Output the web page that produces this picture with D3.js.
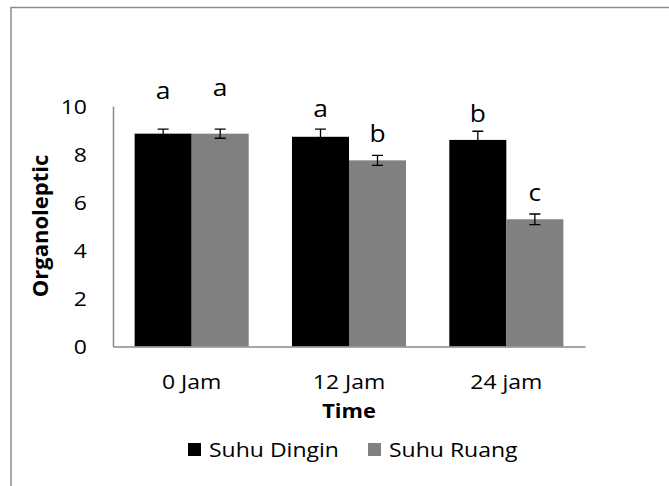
<!DOCTYPE html>
<html>
<head>
<meta charset="utf-8">
<script src="https://cdn.jsdelivr.net/npm/d3@7"></script>
<style>
  body { margin: 0; background: #fff; }
  svg text { font-family: "Open Sans", sans-serif; fill: #000; }
</style>
</head>
<body>
<svg id="chart" width="669" height="486"></svg>
<script>
// Data
const categories = ["0 Jam", "12 Jam", "24 jam"];
const seriesNames = ["Suhu Dingin", "Suhu Ruang"];
const dinginValues = [8.85, 8.72, 8.59];
const ruangValues = [8.85, 7.74, 5.29];
const dinginErrors = [0.19, 0.32, 0.36];
const ruangErrors = [0.19, 0.21, 0.22];
const dinginLetters = ["a", "a", "b"];
const ruangLetters = ["a", "b", "c"];
// letter baselines, in axis units
const dinginLetterAt = [10.29, 9.54, 9.35];
const ruangLetterAt = [10.40, 8.50, 6.05];
const yTicks = [0, 2, 4, 6, 8, 10];

const colors = { "Suhu Dingin": "#000000", "Suhu Ruang": "#808080" };
const axisColor = "#888888";
const SX = 1.15; // the reference text is wide for its height

const svg = d3.select("#chart");

// outer frame (top and left only)
svg.append("path")
  .attr("d", "M11,486 L11,7.5 L669,7.5")
  .attr("fill", "none")
  .attr("stroke", "#8c8c8c")
  .attr("stroke-width", 1.5);

const plot = { left: 113, right: 585, top: 106, bottom: 346.5 };

const x0 = d3.scaleBand()
  .domain(categories)
  .range([plot.left, plot.right])
  .paddingInner(0.275)
  .paddingOuter(0.1375);

const x1 = d3.scaleBand()
  .domain(seriesNames)
  .range([0, x0.bandwidth()]);

const y = d3.scaleLinear()
  .domain([0, 10])
  .range([plot.bottom, plot.top]);

// rows for drawing
const rows = [];
categories.forEach((c, i) => {
  rows.push({ cat: c, series: "Suhu Dingin", value: dinginValues[i], err: dinginErrors[i], letter: dinginLetters[i], letterAt: dinginLetterAt[i] });
  rows.push({ cat: c, series: "Suhu Ruang", value: ruangValues[i], err: ruangErrors[i], letter: ruangLetters[i], letterAt: ruangLetterAt[i] });
});
const cx = d => x0(d.cat) + x1(d.series) + x1.bandwidth() / 2;

// bars
svg.append("g").selectAll("rect")
  .data(rows)
  .enter().append("rect")
  .attr("x", d => x0(d.cat) + x1(d.series))
  .attr("y", d => y(d.value))
  .attr("width", x1.bandwidth())
  .attr("height", d => y(0) - y(d.value))
  .attr("fill", d => colors[d.series]);

// error bars
const eb = svg.append("g")
  .attr("stroke", "#000")
  .attr("stroke-width", 1.3)
  .attr("fill", "none");
rows.forEach(d => {
  const xc = cx(d), top = y(d.value + d.err), bot = y(d.value - d.err);
  eb.append("path")
    .attr("d", `M${xc},${top}V${bot}M${xc - 5.5},${top}H${xc + 5.5}M${xc - 5.5},${bot}H${xc + 5.5}`);
});

// y axis
const yAxis = svg.append("g")
  .attr("transform", `translate(${plot.left},0)`)
  .call(d3.axisLeft(y).tickValues(yTicks).tickSize(0).tickPadding(0));
yAxis.select(".domain").attr("stroke", axisColor).attr("stroke-width", 1.5);
yAxis.selectAll(".tick text")
  .attr("x", 0)
  .attr("dy", "0.36em")
  .attr("transform", `translate(-26,0) scale(${SX},1)`)
  .style("font-size", "20px")
  .style("font-family", "'Open Sans', sans-serif")
  .attr("fill", "#000");

// x axis
const xAxis = svg.append("g")
  .attr("transform", `translate(0,${plot.bottom})`)
  .call(d3.axisBottom(x0).tickSize(0).tickPadding(0).tickSizeOuter(0));
xAxis.select(".domain").attr("stroke", axisColor).attr("stroke-width", 1.5);
xAxis.selectAll(".tick text")
  .attr("y", 0)
  .attr("dy", 0)
  .attr("transform", `translate(0,42) scale(${SX},1)`)
  .style("font-size", "20px")
  .style("font-family", "'Open Sans', sans-serif")
  .attr("fill", "#000");

// significance letters
svg.append("g").selectAll("text")
  .data(rows)
  .enter().append("text")
  .attr("text-anchor", "middle")
  .attr("transform", d => `translate(${cx(d)},${y(d.letterAt)}) scale(1.1,1)`)
  .style("font-size", "24px")
  .text(d => d.letter);

// axis titles
svg.append("text")
  .attr("text-anchor", "middle")
  .attr("transform", `translate(${(plot.left + plot.right) / 2},418) scale(${SX},1)`)
  .style("font-size", "19px")
  .style("font-weight", "bold")
  .text("Time");

svg.append("text")
  .attr("text-anchor", "middle")
  .attr("transform", "translate(48,226) rotate(-90)")
  .style("font-size", "22px")
  .style("font-weight", "bold")
  .text("Organoleptic");

// legend
const legendX = [188, 368];
const legend = svg.append("g");
seriesNames.forEach((s, i) => {
  legend.append("rect")
    .attr("x", legendX[i])
    .attr("y", 443)
    .attr("width", 13)
    .attr("height", 13)
    .attr("fill", colors[s]);
  legend.append("text")
    .attr("transform", `translate(${legendX[i] + 21},456.5) scale(${SX},1)`)
    .style("font-size", "20px")
    .text(s);
});
</script>
</body>
</html>
